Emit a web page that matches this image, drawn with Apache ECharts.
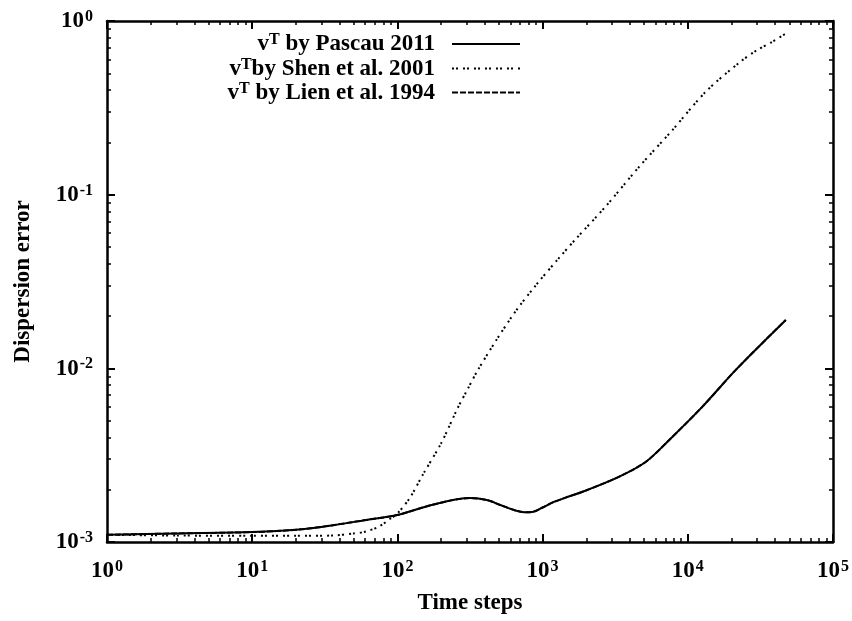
<!DOCTYPE html>
<html>
<head>
<meta charset="utf-8">
<script src="https://cdn.jsdelivr.net/npm/echarts@6/dist/echarts.min.js"></script>
<style>html,body{margin:0;padding:0;background:#fff}#c{width:852px;height:621px}</style>
</head>
<body>
<div id="c"></div>
<script>
// Data
const pascauT = [1, 3, 10, 21, 36, 61, 100, 175, 314, 420, 505, 650, 750, 850, 1000, 1175, 1440, 1990, 3375, 5150, 7450, 12620, 21400, 47300];
const pascauV = [1.10e-3, 1.12e-3, 1.14e-3, 1.18e-3, 1.25e-3, 1.34e-3, 1.43e-3, 1.64e-3, 1.79e-3, 1.74e-3, 1.64e-3, 1.52e-3, 1.485e-3, 1.49e-3, 1.58e-3, 1.69e-3, 1.80e-3, 1.98e-3, 2.38e-3, 2.90e-3, 3.87e-3, 6.02e-3, 9.8e-3, 1.90e-2];
const lienT = [1, 3, 10, 21, 36, 61, 100, 175, 314, 420, 505, 650, 750, 850, 1000, 1175, 1440, 1990, 3375, 5150, 7450, 12620, 21400, 47300];
const lienV = [1.10e-3, 1.12e-3, 1.14e-3, 1.18e-3, 1.25e-3, 1.34e-3, 1.43e-3, 1.64e-3, 1.79e-3, 1.74e-3, 1.64e-3, 1.52e-3, 1.485e-3, 1.49e-3, 1.58e-3, 1.69e-3, 1.80e-3, 1.98e-3, 2.38e-3, 2.90e-3, 3.87e-3, 6.02e-3, 9.8e-3, 1.90e-2];
const shenT = [1, 3, 10, 20, 36, 50, 61, 75, 88, 100, 121, 150, 200, 260, 305, 354, 479, 657, 902, 1303, 1698, 2735, 4634, 7852, 13310, 22550, 30000, 38260, 48500];
const shenV = [1.10e-3, 1.09e-3, 1.085e-3, 1.085e-3, 1.09e-3, 1.12e-3, 1.15e-3, 1.23e-3, 1.35e-3, 1.46e-3, 1.78e-3, 2.45e-3, 3.7e-3, 5.9e-3, 7.6e-3, 9.6e-3, 1.45e-2, 2.15e-2, 3.02e-2, 4.34e-2, 5.57e-2, 8.6e-2, 0.145, 0.236, 0.392, 0.575, 0.68, 0.760, 0.857];
const seriesNames = ['Pascau', 'Shen', 'Lien'];
const legendTexts = [' by Pascau 2011', 'by Shen et al. 2001', ' by Lien et al. 1994'];
const xTitle = 'Time steps';
const yTitle = 'Dispersion error';

const FONT = '"Liberation Serif", "Times New Roman", serif';
const zip = (a, b) => a.map((v, i) => [v, b[i]]);
const expFmt = v => '{b|10}{s|' + Math.round(Math.log10(v)) + '}';
const labRich = {
  b: { fontSize: 23, fontWeight: 'bold', fontFamily: FONT, color: '#000', lineHeight: 24, verticalAlign: 'bottom' },
  s: { fontSize: 16, fontWeight: 'bold', fontFamily: FONT, color: '#000', lineHeight: 16, verticalAlign: 'top', padding: [0, 0, 0, 1] }
};
const lineW = 2.5;
function mkAxis(type, pos, main) {
  const isX = type === 'x';
  return {
    type: 'log', logBase: 10, position: pos,
    min: isX ? 1 : 0.001, max: isX ? 100000 : 1,
    name: main ? (isX ? xTitle : yTitle) : '',
    nameLocation: 'middle',
    nameGap: isX ? 50 : 72,
    nameTextStyle: { fontSize: 23, fontWeight: 'bold', fontFamily: FONT, color: '#000' },
    axisLine: { show: true, lineStyle: { color: '#000', width: lineW } },
    axisTick: { show: true, inside: true, length: 8, lineStyle: { color: '#000', width: 2 } },
    minorTick: { show: true, splitNumber: 9, length: 4, lineStyle: { color: '#000', width: 1.5 } },
    splitLine: { show: false },
    minorSplitLine: { show: false },
    axisLabel: main ? { show: true, formatter: expFmt, rich: labRich, margin: isX ? 17 : 14 } : { show: false }
  };
}
const legRich = {
  v: { fontSize: 23, fontWeight: 'bold', fontFamily: FONT, color: '#000', lineHeight: 24, verticalAlign: 'bottom', padding: [8, 0, 0, 0] },
  t: { fontSize: 16, fontWeight: 'bold', fontFamily: FONT, color: '#000', lineHeight: 16, verticalAlign: 'top', padding: [0, 0, 18, 0] },
  n: { fontSize: 23, fontWeight: 'bold', fontFamily: FONT, color: '#000', lineHeight: 24, verticalAlign: 'bottom', padding: [8, 12, 0, 0] }
};
const legTops = [25, 49.5, 73.5];
const legends = seriesNames.map((nm, i) => ({
  data: [nm], right: 331, top: legTops[i], padding: 0, align: 'right', orient: 'vertical',
  itemWidth: 68, itemHeight: 14, selectedMode: false,
  itemStyle: { opacity: 0 },
  formatter: () => '{v|v}{t|T}{n|' + legendTexts[i] + '}',
  textStyle: { rich: legRich }
}));
const chart = echarts.init(document.getElementById('c'), null, { renderer: 'canvas' });
chart.setOption({
  animation: false,
  backgroundColor: '#fff',
  grid: { left: 107, right: 18, top: 21, bottom: 79, containLabel: false },
  legend: legends,
  xAxis: [mkAxis('x', 'bottom', true), mkAxis('x', 'top', false)],
  yAxis: [mkAxis('y', 'left', true), mkAxis('y', 'right', false)],
  series: [
    { name: 'Pascau', type: 'line', data: zip(pascauT, pascauV), symbol: 'none', smooth: 0.3,
      lineStyle: { color: '#000', width: 2, type: 'solid' }, itemStyle: { color: '#000' } },
    { name: 'Shen', type: 'line', data: zip(shenT, shenV), symbol: 'none', smooth: 0.3,
      lineStyle: { color: '#000', width: 2, type: [2, 2, 2, 5] }, itemStyle: { color: '#000' } },
    { name: 'Lien', type: 'line', data: zip(lienT, lienV), symbol: 'none', smooth: 0.3,
      lineStyle: { color: '#000', width: 2, type: [6, 2] }, itemStyle: { color: '#000' } }
  ]
});
</script>
</body>
</html>
